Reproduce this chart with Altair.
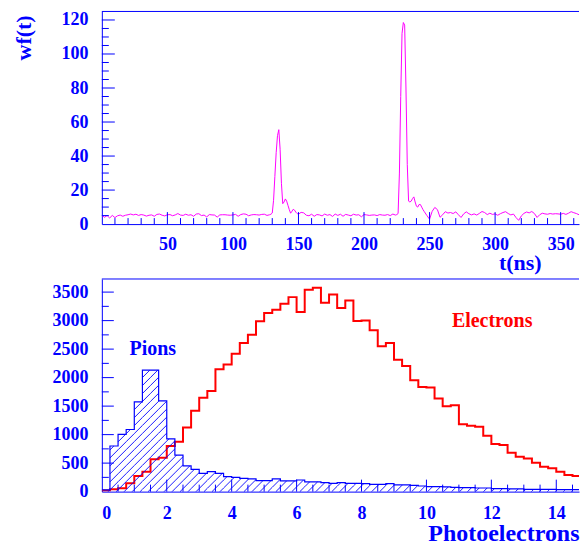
import altair as alt
import pandas as pd

BLUE = "#0000ff"
MAGENTA = "#ff00ff"
RED = "#ff0000"
FONT = "Liberation Serif"

# ---------------- waveform (top panel) ----------------
t_a = list(range(0, 128, 2))
wf_a = [5.2, 4.0, 5.0, 3.6, 5.1, 3.8, 4.9, 5.3, 4.6, 5.2,
        5.5, 5.9, 5.4, 5.8, 5.1, 5.6, 5.3, 4.7, 5.2, 5.4,
        4.6, 5.7, 5.9, 5.2, 4.8, 5.5, 5.6, 4.9, 5.4, 6.2,
        5.3, 5.1, 5.8, 5.2, 5.5, 4.6, 5.9, 6.1, 5.0, 5.3,
        4.2, 5.6, 5.4, 5.3, 4.1, 5.4, 5.5, 5.5, 5.3, 5.2,
        5.4, 5.7, 4.6, 5.6, 6.0, 5.8, 4.9, 5.4, 5.6, 5.5,
        5.3, 5.7, 5.8, 5.1]
t_b = list(range(128, 150))
wf_b = [5.5, 5.8, 6.5, 14, 28, 42, 52, 55.5, 44, 24, 12, 13, 14.8, 13.5,
        11, 8.5, 6.4, 7.5, 8.7, 8.2, 7.0, 6.2]
t_c = list(range(150, 224, 2))
wf_c = [5.8, 6.9, 6.6, 5.2, 4.9, 5.8, 4.6, 5.6, 5.4, 4.8,
        5.9, 5.2, 5.6, 4.5, 5.9, 5.1, 5.8, 4.6, 5.7, 5.3,
        4.9, 5.8, 5.3, 5.5, 4.3, 5.6, 5.4, 5.1, 5.3, 5.4,
        5.0, 5.6, 5.3, 5.2, 5.6, 5.0, 5.9]
t_d = list(range(224, 246))
wf_d = [5.3, 5.6, 6.2, 30, 75, 112, 118.5, 117, 80, 35, 13.5, 13, 13.5, 15,
        16, 13, 10.5, 10, 11.5, 11.5, 10, 8.5]
t_e = list(range(246, 372, 2))
wf_e = [7.3, 5.0, 2.9, 7.5, 9.8, 8.5, 4.0, 5.5, 7.3, 6.5,
        6.8, 6.2, 7.2, 5.5, 3.9, 6.0, 7.2, 6.1, 5.4, 6.0,
        5.3, 6.3, 7.4, 6.8, 5.6, 6.4, 5.7, 6.0, 5.2, 6.1,
        6.8, 7.3, 6.2, 5.4, 5.9, 3.8, 2.2, 4.8, 6.3, 7.1,
        6.6, 7.4, 6.2, 3.9, 5.5, 6.4, 6.0, 5.8, 6.2, 5.9,
        6.1, 6.0, 5.8, 6.3, 5.7, 6.4, 7.3, 6.7, 6.2, 5.5,
        6.0, 5.8, 5.6]

top_x_labels = [50, 100, 150, 200, 250, 300, 350]
top_x_minor = [v for v in range(10, 364, 10) if v % 50]
top_y_labels = [0, 20, 40, 60, 80, 100, 120]
top_y_minor = [v for v in range(5, 125, 5) if v % 20]

# ---------------- photoelectron histograms (bottom panel) ----------------
BIN_W = 0.25
electrons = [20, 40, 58, 146, 274, 350, 566, 595, 800, 875, 1126, 1417,
             1645, 1767, 2147, 2228, 2420, 2607, 2753, 2987, 3132, 3190, 3296, 3412,
             3150, 3540, 3575, 3313, 3459, 3220, 3354, 2992, 3004, 2829, 2549, 2607,
             2315, 2205, 1954, 1837, 1826, 1633, 1499, 1516, 1184, 1155, 1137, 980,
             834, 817, 682, 612, 583, 507, 437, 408, 350, 292, 274, 303]
pions = [30, 800, 1003, 1090, 1575, 2130, 2130, 1592, 927, 642, 450, 390,
         320, 350, 320, 262, 250, 233, 222, 192, 192, 222, 187, 187,
         204, 170, 170, 157, 146, 157, 146, 146, 140, 128, 128, 140,
         117, 117, 111, 99, 87, 87, 82, 76, 70, 70, 64, 64,
         52, 52, 47, 47, 41, 41, 41, 41, 35, 35, 35, 35]

bot_x_labels = [0, 2, 4, 6, 8, 10, 12, 14]
bot_x_minor = [v / 2 for v in range(1, 30) if v % 4]
bot_y_labels = [0, 500, 1000, 1500, 2000, 2500, 3000, 3500]
bot_y_minor = [v for v in range(250, 3730, 500)]

# ---------------- geometry ----------------
W = 478
H1 = 213
H2 = 213
TOP_X = [0, 364]
TOP_Y = [0, 125]
BOT_X = [0, 14.7]
BOT_Y = [0, 3730]

wave = pd.DataFrame({"t": t_a + t_b + t_c + t_d + t_e,
                     "wf": wf_a + wf_b + wf_c + wf_d + wf_e})

edges = [i * BIN_W for i in range(len(electrons))]
el_df = pd.DataFrame({"x": edges + [edges[-1] + BIN_W], "n": electrons + [electrons[-1]]})
pi_df = pd.DataFrame({"x": edges + [edges[-1] + BIN_W], "n": pions + [pions[-1]]})

# hatch lines for the pion histogram (45 degrees in screen space)
xpx = W / BOT_X[1]
ypx = H2 / BOT_Y[1]
slope = xpx / ypx
step = 8 / xpx
start = -max(pions) / slope - step
segs = []
k = 0
while start + k * step < BOT_X[1]:
    x0 = start + k * step
    for i, h in enumerate(pions):
        a = edges[i]
        b = a + BIN_W
        lo = max(a, x0, 0)
        hi = min(b, x0 + h / slope, BOT_X[1])
        if hi > lo:
            segs.append({"x": lo, "y": slope * (lo - x0), "x2": hi, "y2": slope * (hi - x0)})
    k += 1
hatch_df = pd.DataFrame(segs)

xs1 = alt.Scale(domain=TOP_X, nice=False, zero=False)
ys1 = alt.Scale(domain=TOP_Y, nice=False)
xs2 = alt.Scale(domain=BOT_X, nice=False, zero=False)
ys2 = alt.Scale(domain=BOT_Y, nice=False)


def xticks(vals, xs, h, length):
    return alt.Chart(pd.DataFrame({"v": vals})).mark_rule(color=BLUE, strokeWidth=1).encode(
        x=alt.X("v:Q", scale=xs, axis=None),
        y=alt.value(h), y2=alt.value(h - length))


def yticks(vals, ys, length):
    return alt.Chart(pd.DataFrame({"v": vals})).mark_rule(color=BLUE, strokeWidth=1).encode(
        y=alt.Y("v:Q", scale=ys, axis=None),
        x=alt.value(0), x2=alt.value(length))


def frame_top(w):
    return alt.Chart(pd.DataFrame({"a": [0]})).mark_rule(color=BLUE, strokeWidth=1).encode(
        x=alt.value(0), x2=alt.value(w), y=alt.value(0))


# ---------------- top panel ----------------
wave_line = alt.Chart(wave).mark_line(color=MAGENTA, strokeWidth=1, clip=True).encode(
    x=alt.X("t:Q", scale=xs1,
            axis=alt.Axis(values=top_x_labels, title="t(ns)", titleX=440, titleY=45,
                          titleAlign="right", titleBaseline="alphabetic", labelPadding=11,
                          titleFontSize=22)),
    y=alt.Y("wf:Q", scale=ys1,
            axis=alt.Axis(values=top_y_labels, title="wf(t)", titleAngle=270, titleX=-78,
                          titleY=26, titleAlign="center", titleBaseline="middle",
                          labelPadding=14, titleFontSize=22)),
)

top = alt.layer(
    wave_line,
    xticks(top_x_labels, xs1, H1, 12),
    xticks(top_x_minor, xs1, H1, 6),
    yticks(top_y_labels[1:], ys1, 13),
    yticks(top_y_minor, ys1, 7),
    frame_top(W),
).resolve_axis(x="independent", y="independent").properties(width=W, height=H1)

# ---------------- bottom panel ----------------
hatch = alt.Chart(hatch_df).mark_rule(color=BLUE, strokeWidth=0.9).encode(
    x=alt.X("x:Q", scale=xs2, axis=None), x2="x2:Q",
    y=alt.Y("y:Q", scale=ys2, axis=None), y2="y2:Q")

pi_line = alt.Chart(pi_df).mark_line(color=BLUE, strokeWidth=1.2, interpolate="step-after",
                                     clip=True).encode(
    x=alt.X("x:Q", scale=xs2, axis=None),
    y=alt.Y("n:Q", scale=ys2, axis=None))

el_line = alt.Chart(el_df).mark_line(color=RED, strokeWidth=2, interpolate="step-after",
                                     clip=True).encode(
    x=alt.X("x:Q", scale=xs2,
            axis=alt.Axis(values=bot_x_labels, title="Photoelectrons", titleX=W, titleY=48.5,
                          titleAlign="right", titleBaseline="alphabetic", labelPadding=13,
                          titleFontSize=24)),
    y=alt.Y("n:Q", scale=ys2,
            axis=alt.Axis(values=bot_y_labels, format="d", title=None, labelPadding=14)))

pions_txt = alt.Chart(pd.DataFrame({"s": ["Pions"]})).mark_text(
    font=FONT, fontWeight="bold", fontSize=20, color=BLUE).encode(
    text="s:N", x=alt.value(51), y=alt.value(70))
el_txt = alt.Chart(pd.DataFrame({"s": ["Electrons"]})).mark_text(
    font=FONT, fontWeight="bold", fontSize=20, color=RED).encode(
    text="s:N", x=alt.value(391), y=alt.value(42))

bottom = alt.layer(
    el_line,
    hatch,
    pi_line,
    xticks(bot_x_labels[1:], xs2, H2, 12),
    xticks(bot_x_minor, xs2, H2, 7),
    yticks(bot_y_labels[1:], ys2, 12),
    yticks(bot_y_minor, ys2, 7),
    frame_top(W),
    pions_txt,
    el_txt,
).resolve_axis(x="independent", y="independent").properties(width=W, height=H2)

chart = alt.vconcat(top, bottom, spacing=55, bounds="flush",
                    padding={"left": 5, "top": 2, "right": 0, "bottom": 0}).configure_view(
    stroke=None
).configure_axis(
    labelFont=FONT, labelFontWeight="bold", labelColor=BLUE, labelFontSize=18,
    titleFont=FONT, titleFontWeight="bold", titleColor=BLUE,
    domainColor=BLUE, domainWidth=1, ticks=False, tickSize=0, grid=False,
)

chart.save("out.html", embed_options={"renderer": "svg", "actions": False})
